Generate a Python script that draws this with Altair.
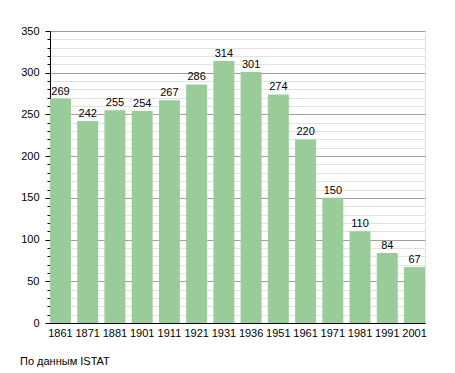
import altair as alt
import pandas as pd

years = ["1861", "1871", "1881", "1901", "1911", "1921", "1931", "1936",
         "1951", "1961", "1971", "1981", "1991", "2001"]
population = [269, 242, 255, 254, 267, 286, 314, 301, 274, 220, 150, 110, 84, 67]
source_note = "По данным  ISTAT"

df = pd.DataFrame({"year": years, "pop": population})
FONT = "Liberation Sans"

x = alt.X("year:N", sort=None, title=None,
          scale=alt.Scale(paddingInner=0.23, paddingOuter=0),
          axis=alt.Axis(labelAngle=0, ticks=False, domainColor="black",
                        labelColor="black", labelFont=FONT, labelFontSize=11,
                        labelPadding=4))
y = alt.Y("pop:Q", title=None,
          scale=alt.Scale(domain=[0, 350], nice=False),
          axis=alt.Axis(values=list(range(0, 351, 10)),
                        labelExpr="datum.value % 50 === 0 ? datum.label : ''",
                        labelOverlap=False,
                        grid=True,
                        gridColor={"condition": {"test": "datum.value % 50 === 0", "value": "#a0a0a0"}, "value": "#e2e2e2"},
                        gridWidth=1,
                        tickSize={"condition": {"test": "datum.value % 50 === 0", "value": 5}, "value": 3},
                        tickColor="black", domainColor="black",
                        labelColor="black", labelFont=FONT, labelFontSize=11,
                        labelPadding=6))

base = alt.Chart(df).encode(x=x, y=y)
bars = base.mark_bar(color="#99cc99")
labels = base.mark_text(baseline="bottom", dy=-2, font=FONT,
                        fontSize=11, color="black").encode(text="pop:Q")

note = alt.Chart(pd.DataFrame({"t": [source_note]})).mark_text(
    align="left", baseline="middle", font=FONT, fontSize=11, color="black").encode(
    x=alt.value(-30), y=alt.value(331), text="t:N")

chart = alt.layer(bars, labels, note).properties(
    width=375, height=292,
    padding={"left": 42, "top": 23, "right": 22, "bottom": 44},
    autosize=alt.AutoSizeParams(type="none"),
).configure_view(stroke=None).configure(background="white")

chart.save("out.html", embed_options={"renderer": "svg", "actions": False})
